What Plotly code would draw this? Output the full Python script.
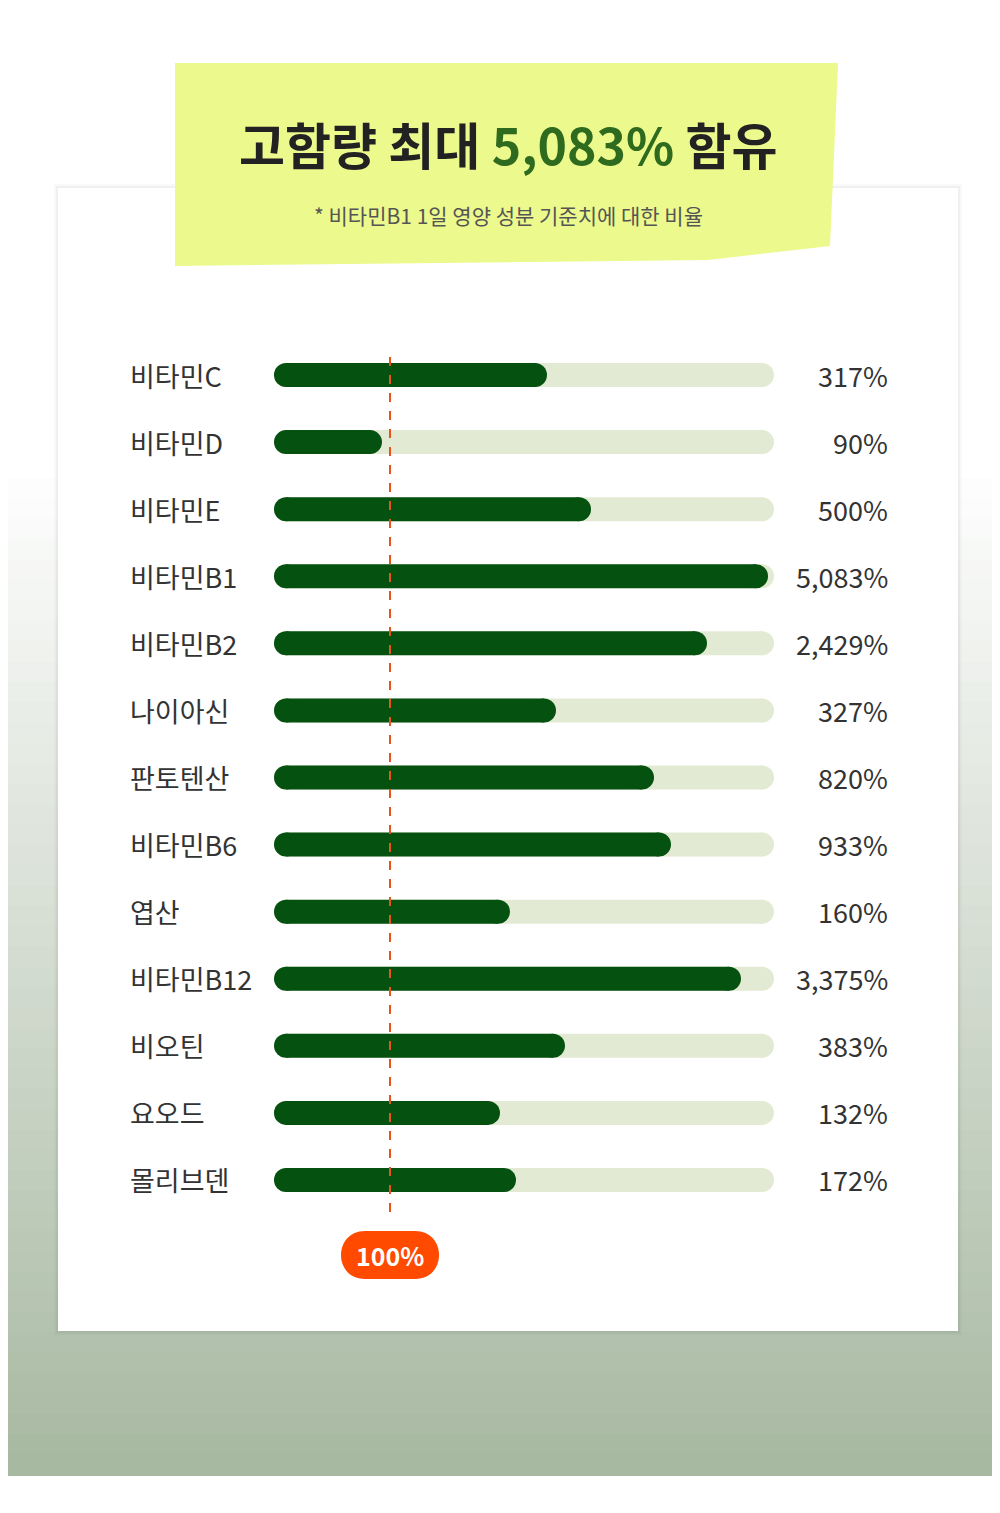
import plotly.graph_objects as go

W, H = 1000, 1513

nutrients = ["비타민C", "비타민D", "비타민E", "비타민B1", "비타민B2", "나이아신", "판토텐산",
             "비타민B6", "엽산", "비타민B12", "비오틴", "요오드", "몰리브덴"]
value_labels = ["317%", "90%", "500%", "5,083%", "2,429%", "327%", "820%",
                "933%", "160%", "3,375%", "383%", "132%", "172%"]
# visual bar fill (share of track)
bar_fill = [0.546, 0.216, 0.634, 0.988, 0.866, 0.564, 0.760,
            0.794, 0.472, 0.934, 0.582, 0.452, 0.484]
ref_mark = 0.232  # position of the 100% line

FONT = "Noto Sans CJK KR"
DARK = "#05510f"
TRACK = "#e3ead4"
ORANGE = "#ff4a00"

def px(x):
    return x / W

def py(y):
    return 1 - y / H

rows = list(range(len(nutrients)))
cap = 12 / 500

fig = go.Figure()
for i, v in zip(rows, bar_fill):
    fig.add_trace(go.Scatter(x=[cap, 1 - cap], y=[i, i], mode="lines+markers",
                             line=dict(color=TRACK, width=24),
                             marker=dict(color=TRACK, size=24), hoverinfo="skip"))
    fig.add_trace(go.Scatter(x=[cap, v - cap], y=[i, i], mode="lines+markers",
                             line=dict(color=DARK, width=24),
                             marker=dict(color=DARK, size=24), hoverinfo="skip"))

fig.add_trace(go.Scatter(x=[ref_mark, ref_mark], y=[-0.27, 12.72], mode="lines",
                         line=dict(color="#e8541c", width=2, dash="dash"), hoverinfo="skip"))

shapes = []
# background gradient
top_c, bot_c = (255, 255, 255), (168, 185, 162)
start, end, n = 450, 1467, 50
shapes.append(dict(type="rect", xref="paper", yref="paper", x0=0, x1=1, y0=py(start), y1=1,
                   fillcolor="white", line_width=0, layer="below"))
for k in range(n):
    t = k / (n - 1)
    c = tuple(int(top_c[j] + (bot_c[j] - top_c[j]) * t) for j in range(3))
    y0 = start + (end - start) * k / n
    y1 = start + (end - start) * (k + 1) / n + 1
    shapes.append(dict(type="rect", xref="paper", yref="paper", x0=0, x1=1,
                       y0=py(y1), y1=py(y0), fillcolor="rgb(%d,%d,%d)" % c,
                       line_width=0, layer="below"))
# card shadow + card
for d, a in [(4, 0.025), (2, 0.035)]:
    shapes.append(dict(type="rect", xref="paper", yref="paper", x0=px(50 - d), x1=px(950 + d),
                       y0=py(1323 + d), y1=py(180 - d), fillcolor="rgba(0,0,0,%s)" % a,
                       line_width=0, layer="below"))
shapes.append(dict(type="rect", xref="paper", yref="paper", x0=px(50), x1=px(950),
                   y0=py(1323), y1=py(180), fillcolor="white", line_width=0, layer="below"))
# sticky note
note = [(167, 55), (830, 55), (822, 238), (700, 252), (167, 258)]
path = "M " + " L ".join("%f,%f" % (px(a), py(b)) for a, b in note) + " Z"
shapes.append(dict(type="path", xref="paper", yref="paper", path=path,
                   fillcolor="#ecf98c", line_width=0, layer="below"))
# 100% pill
x0, x1, y0, y1, r = 333, 431, 1223, 1271, 24
pill = ("M %f,%f L %f,%f C %f,%f %f,%f %f,%f L %f,%f C %f,%f %f,%f %f,%f Z" % (
    px(x0 + r), py(y0), px(x1 - r), py(y0),
    px(x1 + 8), py(y0), px(x1 + 8), py(y1), px(x1 - r), py(y1),
    px(x0 + r), py(y1),
    px(x0 - 8), py(y1), px(x0 - 8), py(y0), px(x0 + r), py(y0)))
shapes.append(dict(type="path", xref="paper", yref="paper", path=pill,
                   fillcolor=ORANGE, line_width=0))

ann = []
ann.append(dict(x=0.5, y=py(135), xref="paper", yref="paper", showarrow=False,
                xanchor="center", yanchor="middle",
                text="<b>고함량 최대 <span style='color:#2e6b1e'>5,083%</span> 함유</b>",
                font=dict(family=FONT, size=50, color="#222222")))
ann.append(dict(x=0.5, y=py(207), xref="paper", yref="paper", showarrow=False,
                xanchor="center", yanchor="middle",
                text="* 비타민B1 1일 영양 성분 기준치에 대한 비율",
                font=dict(family=FONT, size=21, color="#555555")))
for i, (name, lab) in enumerate(zip(nutrients, value_labels)):
    ann.append(dict(x=px(120), y=i, xref="paper", yref="y", showarrow=False, xanchor="left",
                    yanchor="middle", text=name, font=dict(family=FONT, size=27, color="#333333")))
    ann.append(dict(x=px(882), y=i, xref="paper", yref="y", showarrow=False, xanchor="right",
                    yanchor="middle", text=lab, font=dict(family=FONT, size=27, color="#333333")))
ann.append(dict(x=px(382), y=py(1247), xref="paper", yref="paper", showarrow=False,
                xanchor="center", yanchor="middle",
                text="<b>100%</b>", font=dict(family=FONT, size=25, color="white")))

fig.update_layout(
    width=W, height=H, margin=dict(l=0, r=0, t=0, b=0),
    paper_bgcolor="white", plot_bgcolor="rgba(0,0,0,0)", showlegend=False,
    xaxis=dict(domain=[0.266, 0.766], range=[0, 1], visible=False, fixedrange=True),
    yaxis=dict(domain=[py(1205.5), py(333.5)], range=[12.5, -0.5], visible=False, fixedrange=True),
    shapes=shapes, annotations=ann,
)

fig.write_html("out.html")
